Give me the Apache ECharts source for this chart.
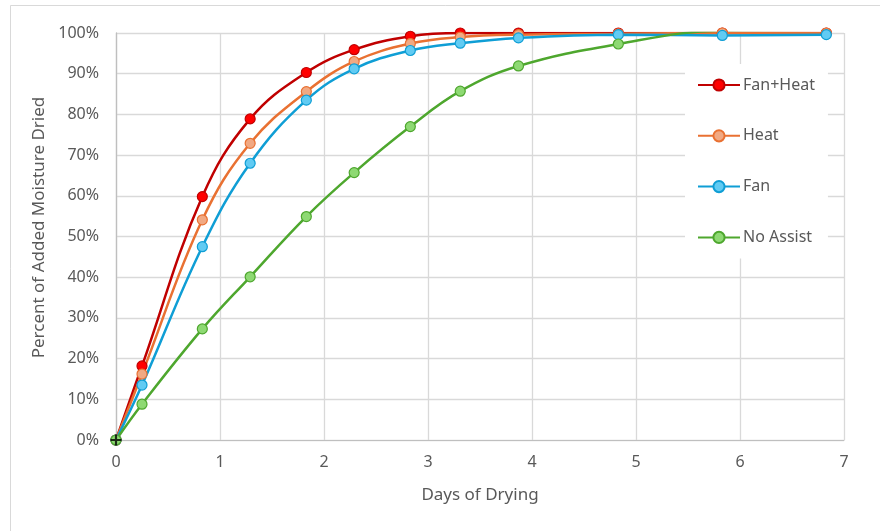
<!DOCTYPE html>
<html>
<head>
<meta charset="utf-8">
<script src="https://cdn.jsdelivr.net/npm/echarts@6/dist/echarts.min.js"></script>
<style>
  html, body { margin: 0; padding: 0; background: #fff; }
  #chart { width: 880px; height: 531px; }
</style>
</head>
<body>
<div id="chart"></div>
<script>
// Drying time in days for each weighing
const days = [0, 0.25, 0.83, 1.29, 1.83, 2.29, 2.83, 3.31, 3.87, 4.83, 5.83, 6.83];

// Percent of added moisture removed
const fanHeat  = [0, 18.2, 59.8, 78.9, 90.3, 95.9, 99.2, 100.0, 100.0, 100.0, 100.0, 100.0];
const heat     = [0, 16.2, 54.1, 72.9, 85.6, 93.0, 97.4, 99.0, 99.6, 99.8, 100.0, 100.0];
const fan      = [0, 13.5, 47.5, 68.0, 83.5, 91.2, 95.7, 97.5, 98.8, 99.6, 99.4, 99.6];
const noAssist = [0, 8.8, 27.3, 40.1, 54.9, 65.7, 77.0, 85.7, 91.9, 97.3, 100.6, 100.8];

const seriesNames = ['Fan+Heat', 'Heat', 'Fan', 'No Assist'];
const xTicks = [0, 7, 1];      // min, max, step
const yTicks = [0, 100, 10];   // min, max, step

const FONT = '"Noto Sans", "Open Sans", sans-serif';
const TEXT = '#595959';

function pairs(ys) { return days.map((d, i) => [d, ys[i]]); }

function lineSeries(name, ys, lineColor, fillColor) {
  return {
    name: name,
    type: 'line',
    data: pairs(ys),
    smooth: 0.4,
    symbol: 'circle',
    symbolSize: 10,
    showSymbol: true,
    lineStyle: { color: lineColor, width: 2.5 },
    itemStyle: { color: fillColor, borderColor: lineColor, borderWidth: 1.2 },
    emphasis: { disabled: true },
    z: 2
  };
}

const chart = echarts.init(document.getElementById('chart'), null, { renderer: 'canvas' });

chart.setOption({
  animation: false,
  backgroundColor: '#ffffff',
  textStyle: { fontFamily: FONT },
  graphic: [{
    type: 'rect',
    shape: { x: 10.5, y: 5.5, width: 900, height: 600 },
    style: { fill: null, stroke: '#D9D9D9', lineWidth: 1 },
    silent: true,
    z: -10
  }],
  grid: { left: 116, right: 36, top: 33, bottom: 91 },
  legend: {
    data: seriesNames,
    orient: 'vertical',
    left: 685,
    top: 64,
    padding: [13, 13, 13, 12],
    backgroundColor: '#ffffff',
    itemWidth: 42,
    itemHeight: 14,
    itemGap: 34.8,
    textStyle: { color: TEXT, fontSize: 16, fontFamily: FONT, padding: [0, 0, 0, -2] },
    selectedMode: false,
    z: 5
  },
  xAxis: {
    type: 'value',
    min: xTicks[0], max: xTicks[1], interval: xTicks[2],
    name: 'Days of Drying',
    nameLocation: 'middle',
    nameGap: 47,
    nameTextStyle: { color: TEXT, fontSize: 17, fontFamily: FONT },
    axisLine: { show: true, lineStyle: { color: '#BFBFBF', width: 1 } },
    axisTick: { show: false },
    axisLabel: { color: TEXT, fontSize: 16, fontFamily: FONT, margin: 14 },
    splitLine: { show: true, lineStyle: { color: '#D9D9D9', width: 1.3 } }
  },
  yAxis: {
    type: 'value',
    min: yTicks[0], max: yTicks[1], interval: yTicks[2],
    name: 'Percent of Added Moisture Dried',
    nameLocation: 'middle',
    nameGap: 68,
    nameTextStyle: { color: TEXT, fontSize: 17, fontFamily: FONT, padding: [0, 0, 0, 18] },
    axisLine: { show: true, lineStyle: { color: '#BFBFBF', width: 1.3 } },
    axisTick: { show: false },
    axisLabel: { color: TEXT, fontSize: 16, fontFamily: FONT, margin: 17, formatter: v => v + '%' },
    splitLine: { show: true, lineStyle: { color: '#D9D9D9', width: 1.3 } }
  },
  series: [
    lineSeries('Fan+Heat', fanHeat, '#C00000', '#FF0000'),
    lineSeries('Heat', heat, '#E97132', '#F1A983'),
    lineSeries('Fan', fan, '#0F9ED5', '#61CBF3'),
    lineSeries('No Assist', noAssist, '#4EA72E', '#8ED973'),
    {
      name: 'origin',
      type: 'scatter',
      data: [[days[0], noAssist[0]]],
      symbol: 'path://M4,0H6V4H10V6H6V10H4V6H0V4H4Z',
      symbolSize: 11,
      itemStyle: { color: '#000000' },
      emphasis: { disabled: true },
      z: 4
    }
  ]
});
</script>
</body>
</html>
